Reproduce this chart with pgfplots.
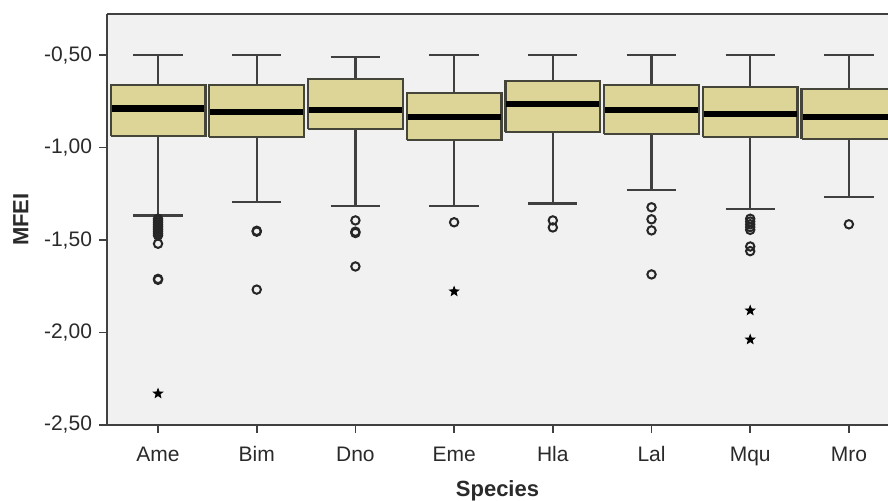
\documentclass[border=0pt]{standalone}
\usepackage{fontspec}
\setmainfont{Liberation Sans}
\usepackage{pgfplots}
\pgfplotsset{compat=1.18}
\definecolor{boxfill}{HTML}{DDD598}
\definecolor{boxline}{HTML}{45453A}
\definecolor{bg}{HTML}{F1F1F1}
\definecolor{frame}{HTML}{404040}
\definecolor{txt}{HTML}{2A2A2A}
\pgfdeclareplotmark{fstar}{%
  \pgfpathmoveto{\pgfpointpolar{90}{\pgfplotmarksize}}%
  \pgfpathlineto{\pgfpointpolar{126}{0.42\pgfplotmarksize}}%
  \pgfpathlineto{\pgfpointpolar{162}{\pgfplotmarksize}}%
  \pgfpathlineto{\pgfpointpolar{198}{0.42\pgfplotmarksize}}%
  \pgfpathlineto{\pgfpointpolar{234}{\pgfplotmarksize}}%
  \pgfpathlineto{\pgfpointpolar{270}{0.42\pgfplotmarksize}}%
  \pgfpathlineto{\pgfpointpolar{306}{\pgfplotmarksize}}%
  \pgfpathlineto{\pgfpointpolar{342}{0.42\pgfplotmarksize}}%
  \pgfpathlineto{\pgfpointpolar{18}{\pgfplotmarksize}}%
  \pgfpathlineto{\pgfpointpolar{54}{0.42\pgfplotmarksize}}%
  \pgfpathclose\pgfusepathqfillstroke}
\pgfplotsset{
  bx/.style={fill=boxfill, draw=boxline, line width=1.1pt, mark=none, line join=miter},
}
\begin{document}
\begin{tikzpicture}
\begin{axis}[
  at={(0,0)}, anchor=south west,
  scale only axis, width=390.5pt, height=205.5pt,
  xmin=-0.517, xmax=7.396, ymin=-2.5, ymax=-0.278,
  separate axis lines,
  axis x line*=box, axis y line*=left,
  axis line style={draw=frame, line width=1.1pt},
  axis background/.style={fill=bg},
  xtick={0,1,2,3,4,5,6,7},
  xticklabels={Ame,Bim,Dno,Eme,Hla,Lal,Mqu,Mro},
  ytick={-2.5,-2,-1.5,-1,-0.5},
  xtick pos=left, ytick pos=left,
  tick align=outside,
  major tick length=4pt,
  tick style={draw=frame, line width=0.9pt},
  /pgf/number format/assume math mode=true,
  yticklabel style={/pgf/number format/.cd, fixed, fixed zerofill, precision=2, use comma},
  ticklabel style={font=\fontsize{10.5}{12}\selectfont, text=txt},
  xticklabel style={text height=7.5pt, text depth=2pt, yshift=-3pt},
  xlabel={\textbf{Species}}, ylabel={\textbf{MFEI}},
  label style={font=\fontsize{11}{13}\selectfont, text=txt},
  xlabel style={yshift=-1pt},
  ylabel style={yshift=1pt},
  unbounded coords=jump,
]
% whiskers and caps
\addplot[draw=frame, line width=1.1pt, mark=none] coordinates {
  (0,-0.50)(0,-0.66) (0,nan) (-0.25,-0.50)(0.25,-0.50) (0,nan) (0,-0.939)(0,-1.367) (0,nan) (-0.25,-1.367)(0.25,-1.367) (0,nan)
  (1,-0.50)(1,-0.66) (1,nan) (0.75,-0.50)(1.25,-0.50) (1,nan) (1,-0.943)(1,-1.295) (1,nan) (0.75,-1.295)(1.25,-1.295) (1,nan)
  (2,-0.51)(2,-0.63) (2,nan) (1.75,-0.51)(2.25,-0.51) (2,nan) (2,-0.90)(2,-1.318) (2,nan) (1.75,-1.318)(2.25,-1.318) (2,nan)
  (3,-0.50)(3,-0.706) (3,nan) (2.75,-0.50)(3.25,-0.50) (3,nan) (3,-0.96)(3,-1.318) (3,nan) (2.75,-1.318)(3.25,-1.318) (3,nan)
  (4,-0.50)(4,-0.641) (4,nan) (3.75,-0.50)(4.25,-0.50) (4,nan) (4,-0.915)(4,-1.303) (4,nan) (3.75,-1.303)(4.25,-1.303) (4,nan)
  (5,-0.50)(5,-0.66) (5,nan) (4.75,-0.50)(5.25,-0.50) (5,nan) (5,-0.928)(5,-1.231) (5,nan) (4.75,-1.231)(5.25,-1.231) (5,nan)
  (6,-0.50)(6,-0.673) (6,nan) (5.75,-0.50)(6.25,-0.50) (6,nan) (6,-0.944)(6,-1.334) (6,nan) (5.75,-1.334)(6.25,-1.334) (6,nan)
  (7,-0.50)(7,-0.684) (7,nan) (6.75,-0.50)(7.25,-0.50) (7,nan) (7,-0.955)(7,-1.269) (7,nan) (6.75,-1.269)(7.25,-1.269)
};
% boxes (lower quartile to upper quartile)
\addplot[bx] coordinates {(-0.48,-0.939)(0.48,-0.939)(0.48,-0.66)(-0.48,-0.66)(-0.48,-0.939)};
\addplot[bx] coordinates {(0.52,-0.943)(1.48,-0.943)(1.48,-0.66)(0.52,-0.66)(0.52,-0.943)};
\addplot[bx] coordinates {(1.52,-0.90)(2.48,-0.90)(2.48,-0.63)(1.52,-0.63)(1.52,-0.90)};
\addplot[bx] coordinates {(2.52,-0.96)(3.48,-0.96)(3.48,-0.706)(2.52,-0.706)(2.52,-0.96)};
\addplot[bx] coordinates {(3.52,-0.915)(4.48,-0.915)(4.48,-0.641)(3.52,-0.641)(3.52,-0.915)};
\addplot[bx] coordinates {(4.52,-0.928)(5.48,-0.928)(5.48,-0.66)(4.52,-0.66)(4.52,-0.928)};
\addplot[bx] coordinates {(5.52,-0.944)(6.48,-0.944)(6.48,-0.673)(5.52,-0.673)(5.52,-0.944)};
\addplot[bx] coordinates {(6.52,-0.955)(7.48,-0.955)(7.48,-0.684)(6.52,-0.684)(6.52,-0.955)};
% medians
\addplot[draw=black, line width=3.2pt, mark=none] coordinates {
  (-0.47,-0.788)(0.47,-0.788) (0,nan) (0.53,-0.808)(1.47,-0.808) (1,nan)
  (1.53,-0.798)(2.47,-0.798) (2,nan) (2.53,-0.834)(3.47,-0.834) (3,nan)
  (3.53,-0.766)(4.47,-0.766) (4,nan) (4.53,-0.798)(5.47,-0.798) (5,nan)
  (5.53,-0.82)(6.47,-0.82) (6,nan) (6.53,-0.834)(7.47,-0.834)
};
% outliers
\addplot[only marks, mark=o, mark size=2.1pt, mark options={draw=black!85, line width=1pt}] coordinates {
  (0,-1.385) (0,-1.395) (0,-1.405) (0,-1.415) (0,-1.425) (0,-1.435) (0,-1.445) (0,-1.455) (0,-1.465) (0,-1.475) (0,-1.52) (0,-1.71) (0,-1.715)
  (1,-1.45) (1,-1.455) (1,-1.768)
  (2,-1.394) (2,-1.455) (2,-1.462) (2,-1.643)
  (3,-1.404)
  (4,-1.394) (4,-1.432)
  (5,-1.323) (5,-1.388) (5,-1.448) (5,-1.686)
  (6,-1.385) (6,-1.40) (6,-1.415) (6,-1.43) (6,-1.445) (6,-1.535) (6,-1.56)
  (7,-1.415)
};
% extreme values
\addplot[only marks, mark=fstar, mark size=2.4pt, black] coordinates {(0,-2.33) (3,-1.778) (6,-1.881) (6,-2.038)};
\end{axis}
\pgfresetboundingbox
\path[use as bounding box] (-53.5pt,-38pt) rectangle (390.5pt,212.5pt);
\end{tikzpicture}
\end{document}
